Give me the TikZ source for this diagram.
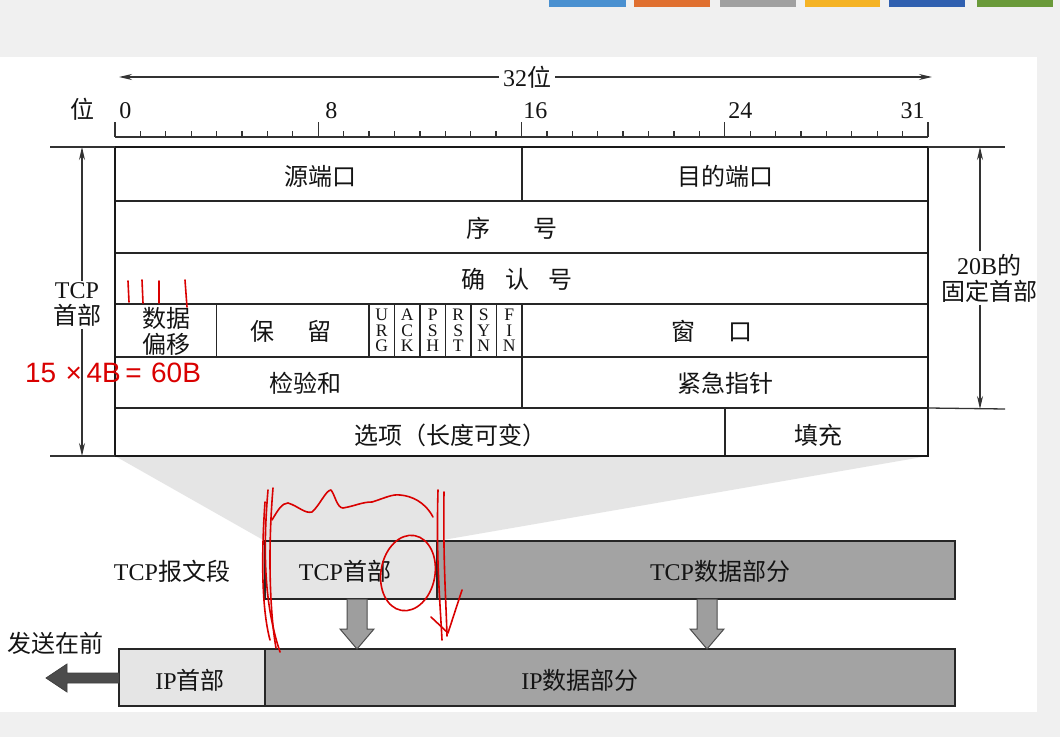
\documentclass[tikz,border=0pt]{standalone}
\usepackage{fontspec}
\setmainfont{Liberation Serif}
\setsansfont{Liberation Sans}
\newfontfamily\cjk{Noto Sans CJK SC}
\usetikzlibrary{arrows.meta}
\newcommand\zh[1]{{\cjk #1}}
% \tcell[style]{name}{x1}{y1}{x2}{y2}{text}
\newcommand\tcell[7][]{\node[cellbox,#1,minimum width={(#5-#3)*0.5pt},minimum height={(#6-#4)*0.5pt}] (#2) at ({(#3+#5)/2},{(#4+#6)/2}) {#7};}
\begin{document}
\begin{tikzpicture}[x=0.5pt,y=-0.5pt,
  cellbox/.style={draw=black!85,line width=0.8pt,inner sep=0pt,outer sep=0pt},
  lbl/.style={inner sep=1pt,font=\fontsize{12}{13}\selectfont,text=black!92,align=center},
  flagbox/.style={align=center,font=\fontsize{8.8}{7.7}\selectfont,text=black!92},
  dim/.style={line width=0.65pt,draw=black!80},
  tip/.style={-{Stealth[length=6.5pt,width=3pt]}},
  lightbox/.style={cellbox,fill=black!10,line width=0.8pt},
  darkbox/.style={cellbox,fill=black!36,line width=0.8pt},
  blockarrow/.style={fill=black!38,draw=black!70,line width=0.5pt},
  sendarrow/.style={fill=black!70,draw=black!75,line width=0.4pt},
  hand/.style={draw=red!85!black,line width=0.8pt,line cap=round,line join=round},
]
\useasboundingbox (0,0) rectangle (1060,737);
% slide background
\fill[black!6] (0,0) rectangle (1060,737);
\fill[white] (0,57) rectangle (1037,712);
\fill[fill={rgb,255:red,74;green,144;blue,208}] (549,0) rectangle (626,7);
\fill[fill={rgb,255:red,224;green,112;blue,48}] (634,0) rectangle (710,7);
\fill[fill={rgb,255:red,160;green,160;blue,160}] (720,0) rectangle (796,7);
\fill[fill={rgb,255:red,245;green,179;blue,37}] (805,0) rectangle (880,7);
\fill[fill={rgb,255:red,48;green,96;blue,176}] (889,0) rectangle (965,7);
\fill[fill={rgb,255:red,106;green,154;blue,58}] (977,0) rectangle (1053,7);

% zoom wedge
\fill[black!10] (115,456) -- (928,456) -- (437,541) -- (265,541) -- cycle;

% 32-bit scale
\node[lbl,inner sep=2pt] (t32) at (527,77) {32\zh{位}};
\coordinate (s32l) at (119,77);
\coordinate (s32r) at (932,77);
\draw[dim,tip] (t32.west) -- (s32l);
\draw[dim,tip] (t32.east) -- (s32r);
\node[lbl] (twei) at (82,109) {\zh{位}};
\coordinate (r0) at (115,137);
\coordinate (r32) at (928,137);
\draw[dim] (r0) -- (r32);
\foreach \i in {0,...,32}{
  \pgfmathsetmacro\xx{115+\i*25.406}
  \pgfmathsetmacro\hh{mod(\i,8)==0 ? 15 : 6}
  \draw[dim] (\xx,137) -- (\xx,137-\hh);
}
\node[lbl,anchor=west] (n0) at (117,111) {0};
\node[lbl,anchor=west] (n8) at (323,111) {8};
\node[lbl,anchor=west] (n16) at (521,111) {16};
\node[lbl,anchor=west] (n24) at (726,111) {24};
\node[lbl,anchor=east] (n31) at (927,111) {31};

% header table
\tcell{c-src}{115}{147}{522}{201}{}
\tcell{c-dst}{522}{147}{928}{201}{}
\tcell{c-seq}{115}{201}{928}{253}{}
\tcell{c-ack}{115}{253}{928}{304}{}
\tcell{c-off}{115}{304}{216.6}{357}{}
\tcell{c-rsv}{216.6}{304}{369}{357}{}
\tcell[flagbox]{c-urg}{369}{304}{394.5}{357}{U\\R\\G}
\tcell[flagbox]{c-ackf}{394.5}{304}{420}{357}{A\\C\\K}
\tcell[flagbox]{c-psh}{420}{304}{445.5}{357}{P\\S\\H}
\tcell[flagbox]{c-rst}{445.5}{304}{471}{357}{R\\S\\T}
\tcell[flagbox]{c-syn}{471}{304}{496.5}{357}{S\\Y\\N}
\tcell[flagbox]{c-fin}{496.5}{304}{522}{357}{F\\I\\N}
\tcell{c-win}{522}{304}{928}{357}{}
\tcell{c-chk}{115}{357}{522}{408}{}
\tcell{c-uptr}{522}{357}{928}{408}{}
\tcell{c-opt}{115}{408}{725}{456}{}
\tcell{c-pad}{725}{408}{928}{456}{}
\draw[line width=1.2pt,draw=black!90] (c-src.north west) rectangle (c-pad.south east);

\node[lbl] (l-src) at (320,176) {\zh{源端口}};
\node[lbl] (l-dst) at (725,176) {\zh{目的端口}};
\node[lbl] (l-seq) at (512,228) {\zh{序\hspace{1.8em}号}};
\node[lbl] (l-ack) at (517,279) {\zh{确\hspace{0.8em}认\hspace{0.8em}号}};
\node[lbl] (l-off) at (166,331) {\zh{数据}\\\zh{偏移}};
\node[lbl] (l-rsv) at (291,331) {\zh{保\hspace{1.4em}留}};
\node[lbl] (l-win) at (712,331) {\zh{窗\hspace{1.4em}口}};
\node[lbl] (l-chk) at (305,383) {\zh{检验和}};
\node[lbl] (l-uptr) at (725,383) {\zh{紧急指针}};
\node[lbl] (l-opt) at (450,435) {\zh{选项（长度可变）}};
\node[lbl] (l-pad) at (818,435) {\zh{填充}};

% left dimension: TCP header
\coordinate (lt) at (82,147);
\coordinate (lb) at (82,456);
\coordinate (lte) at (50,147);
\coordinate (lbe) at (50,456);
\draw[dim] (lte) -- (c-src.north west);
\draw[dim] (lbe) -- (c-opt.south west);
\node[lbl] (l-tcph) at (77,305) {TCP\\\zh{首部}};
\draw[dim,tip] (lt |- l-tcph.north) -- (lt);
\draw[dim,tip] (lb |- l-tcph.south) -- (lb);

% right dimension: fixed 20B
\coordinate (rt) at (980,147);
\coordinate (rb) at (980,409);
\coordinate (rte) at (1005,147);
\coordinate (rbe) at (1005,409);
\draw[dim] (c-dst.north east) -- (rte);
\draw[dim] (c-uptr.south east) -- (rbe);
\node[lbl] (l-fix) at (989,278) {20B\zh{的}\\\zh{固定首部}};
\draw[dim,tip] (rt |- l-fix.north) -- (rt);
\draw[dim,tip] (rb |- l-fix.south) -- (rb);

% segments
\tcell[lightbox]{tcph}{265}{541}{437}{599}{}
\tcell[darkbox]{tcpd}{437}{541}{955}{599}{}
\tcell[lightbox]{iph}{119}{649}{265}{706}{}
\tcell[darkbox]{ipd}{265}{649}{955}{706}{}
\node[lbl] (l-tcph2) at (345,571) {TCP\zh{首部}};
\node[lbl] (l-tcpd) at (720,571) {TCP\zh{数据部分}};
\node[lbl] (l-iph) at (190,680) {IP\zh{首部}};
\node[lbl] (l-ipd) at (580,680) {IP\zh{数据部分}};
\node[lbl] (l-seg) at (172,571) {TCP\zh{报文段}};
\node[lbl] (l-send) at (55,643) {\zh{发送在前}};

% block arrows
\foreach \ax in {357,707}{
  \draw[blockarrow] (\ax-10,599) -- (\ax+10,599) -- (\ax+10,629) -- (\ax+17,629) -- (\ax,649) -- (\ax-17,629) -- (\ax-10,629) -- cycle;
}
\draw[sendarrow] (iph.west |- 0,673) -- (67,673) -- (67,664) -- (46,678) -- (67,692) -- (67,683) -- (iph.west |- 0,683) -- cycle;

% red handwriting
\begin{scope}[hand]
\draw (128,281) -- (129,302);
\draw (142,280) -- (143,303);
\draw (159,281) -- (159,303);
\draw (185,280) -- (187,307);
\node[text=red!85!black,font=\sffamily\fontsize{14}{14}\selectfont,inner sep=0pt] (hw) at (113,373) {15\,\,×\,4B\,=\,\,60B};
\draw (268,490) .. controls (262,560) and (266,610) .. (280,652);
\draw (273,488) .. controls (267,560) and (271,620) .. (276,648);
\draw (265,502) .. controls (261,560) and (262,610) .. (270,640);
\draw (272,520) .. controls (278,510) and (282,503) .. (288,503) .. controls (298,506) and (305,514) .. (312,512) .. controls (320,505) and (326,490) .. (331,490) .. controls (335,495) and (337,508) .. (343,508) .. controls (355,506) and (362,502) .. (372,502) .. controls (385,498) and (392,494) .. (400,495) .. controls (412,496) and (425,502) .. (433,517);
\draw (438,490) .. controls (436,560) and (440,600) .. (442,640);
\draw (444,492) .. controls (443,560) and (446,600) .. (447,636);
\draw (431,617) -- (448,633) -- (462,590);
\draw[rotate around={-10:(408,573)}] (408,573) ellipse [x radius=27, y radius=38];
\end{scope}
\end{tikzpicture}
\end{document}
